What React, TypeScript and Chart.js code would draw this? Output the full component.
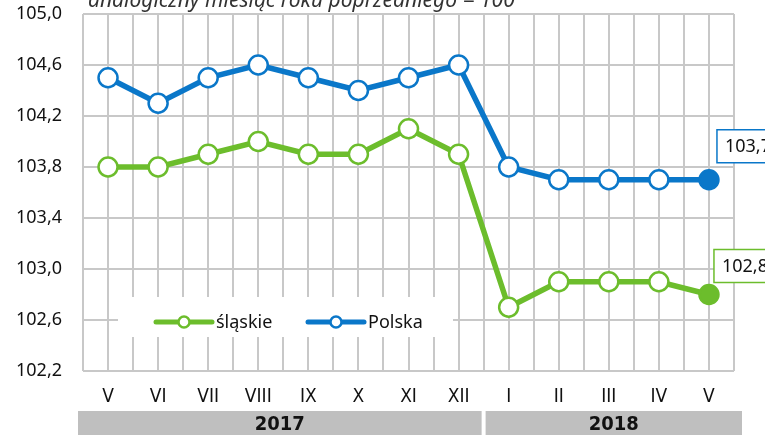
import React, { useEffect, useRef } from 'react';
import { Chart, registerables } from 'chart.js';

Chart.register(...registerables);

// ---- data ----
const months = ['V', 'VI', 'VII', 'VIII', 'IX', 'X', 'XI', 'XII', 'I', 'II', 'III', 'IV', 'V'];
const slaskie = [103.8, 103.8, 103.9, 104.0, 103.9, 103.9, 104.1, 103.9, 102.7, 102.9, 102.9, 102.9, 102.8];
const polska = [104.5, 104.3, 104.5, 104.6, 104.5, 104.4, 104.5, 104.6, 103.8, 103.7, 103.7, 103.7, 103.7];
const seriesNames = ['śląskie', 'Polska'];
const yearLabels = ['2017', '2018'];
const yearStart = [0, 8];
const yearEnd = [7, 12];
const yMin = 102.2;
const yMax = 105.0;
const yStep = 0.4;
const subtitle = 'analogiczny miesiąc roku poprzedniego = 100';

const GREEN = '#6cbd2c';
const BLUE = '#0a77c9';
const GRID = '#c8c8c8';
const colors = [GREEN, BLUE];

const fmt = (v: number) => v.toFixed(1).replace('.', ',');

const decorPlugin = {
  id: 'decor',
  beforeDraw(chart: any) {
    const { ctx } = chart;
    const xs = chart.scales.x;
    ctx.save();
    // subtitle (cut by top edge)
    ctx.font = 'italic 21px "Noto Sans"';
    ctx.fillStyle = '#333333';
    ctx.textAlign = 'left';
    ctx.textBaseline = 'alphabetic';
    ctx.fillText(subtitle, 88, 7);
    // year bands
    for (let i = 0; i < yearLabels.length; i++) {
      const l = xs.getPixelForValue(yearStart[i] - 0.5) + (i === 0 ? -5 : 2);
      const r = xs.getPixelForValue(yearEnd[i] + 0.5) + (i === yearLabels.length - 1 ? 8 : -2);
      ctx.fillStyle = '#bfbfbf';
      ctx.fillRect(l, 411, r - l, 30);
      ctx.fillStyle = '#111111';
      ctx.font = 'bold 20px "Liberation Sans Narrow", "DejaVu Sans Condensed"';
      ctx.textAlign = 'center';
      ctx.textBaseline = 'middle';
      ctx.fillText(yearLabels[i], (l + r) / 2, 425);
    }
    ctx.restore();
  },
  beforeDatasetsDraw(chart: any) {
    const { ctx } = chart;
    ctx.save();
    // legend box covering grid
    ctx.fillStyle = '#ffffff';
    ctx.fillRect(118, 297, 335, 40);
    const ly = 322;
    const starts = [156, 308];
    chart.data.datasets.forEach((ds: any, i: number) => {
      const x0 = starts[i];
      ctx.strokeStyle = ds.borderColor;
      ctx.lineWidth = 5;
      ctx.lineCap = 'round';
      ctx.beginPath();
      ctx.moveTo(x0, ly);
      ctx.lineTo(x0 + 56, ly);
      ctx.stroke();
      ctx.beginPath();
      ctx.arc(x0 + 28, ly, 5.5, 0, Math.PI * 2);
      ctx.fillStyle = '#ffffff';
      ctx.fill();
      ctx.lineWidth = 2.5;
      ctx.stroke();
      ctx.fillStyle = '#111111';
      ctx.font = '18px "Noto Sans"';
      ctx.textAlign = 'left';
      ctx.textBaseline = 'middle';
      ctx.fillText(ds.label, x0 + 60, ly + 1);
    });
    ctx.restore();
  },
  afterDatasetsDraw(chart: any) {
    const { ctx } = chart;
    ctx.save();
    chart.data.datasets.forEach((ds: any, i: number) => {
      const meta = chart.getDatasetMeta(i);
      const last = meta.data[meta.data.length - 1];
      const val = ds.data[ds.data.length - 1].y;
      const bx = last.x + (i === 0 ? 5 : 8);
      const by = last.y - (i === 0 ? 45 : 50);
      ctx.fillStyle = '#ffffff';
      ctx.fillRect(bx, by, 70, 33);
      ctx.strokeStyle = ds.borderColor;
      ctx.lineWidth = 1.5;
      ctx.strokeRect(bx, by, 70, 33);
      ctx.fillStyle = '#111111';
      ctx.font = '18px "Noto Sans"';
      ctx.textAlign = 'left';
      ctx.textBaseline = 'middle';
      ctx.fillText(fmt(val), bx + 8, by + 17);
    });
    ctx.restore();
  },
};

export default function App() {
  const ref = useRef<HTMLCanvasElement | null>(null);

  useEffect(() => {
    if (!ref.current) return;
    const series = [slaskie, polska];
    const chart = new Chart(ref.current, {
      type: 'line',
      data: {
        datasets: series.map((s, i) => ({
          label: seriesNames[i],
          data: s.map((v, k) => ({ x: k, y: v })),
          borderColor: colors[i],
          backgroundColor: colors[i],
          borderWidth: 5.5,
          pointRadius: 9.5,
          pointHoverRadius: 9.5,
          pointBorderWidth: 2.5,
          pointBorderColor: colors[i],
          pointBackgroundColor: s.map((_, k) => (k === s.length - 1 ? colors[i] : '#ffffff')),
          tension: 0,
        })),
      },
      options: {
        responsive: false,
        animation: false,
        layout: { padding: { top: 14, right: 31, left: 0, bottom: 0 } },
        plugins: { legend: { display: false }, tooltip: { enabled: false } },
        scales: {
          x: {
            type: 'linear',
            min: -0.5,
            max: 12.5,
            border: { display: false },
            grid: { color: GRID, lineWidth: 2, drawTicks: false },
            ticks: {
              stepSize: 0.5,
              autoSkip: false,
              maxRotation: 0,
              padding: 15,
              color: '#111111',
              font: { family: '"DejaVu Sans Condensed"', size: 19 },
              callback: (v: any) => (Number.isInteger(v) ? months[v] : ''),
            },
            afterFit: (s: any) => {
              s.height = 64;
              s.paddingLeft = 0;
              s.paddingRight = 0;
            },
          },
          y: {
            min: yMin,
            max: yMax,
            border: { display: false },
            grid: { color: GRID, lineWidth: 2, drawTicks: false },
            ticks: {
              stepSize: yStep,
              padding: 21,
              color: '#111111',
              font: { family: '"Noto Sans"', size: 18 },
              callback: (v: any) => fmt(Number(v)),
            },
            afterFit: (s: any) => {
              s.width = 83;
              s.paddingTop = 0;
              s.paddingBottom = 0;
            },
          },
        },
      },
      plugins: [decorPlugin],
    });
    return () => chart.destroy();
  }, []);

  return (
    <div style={{ position: 'fixed', left: 0, top: 0, width: 765, height: 435, background: '#ffffff' }}>
      <canvas ref={ref} width={765} height={435} style={{ width: 765, height: 435 }} />
    </div>
  );
}
